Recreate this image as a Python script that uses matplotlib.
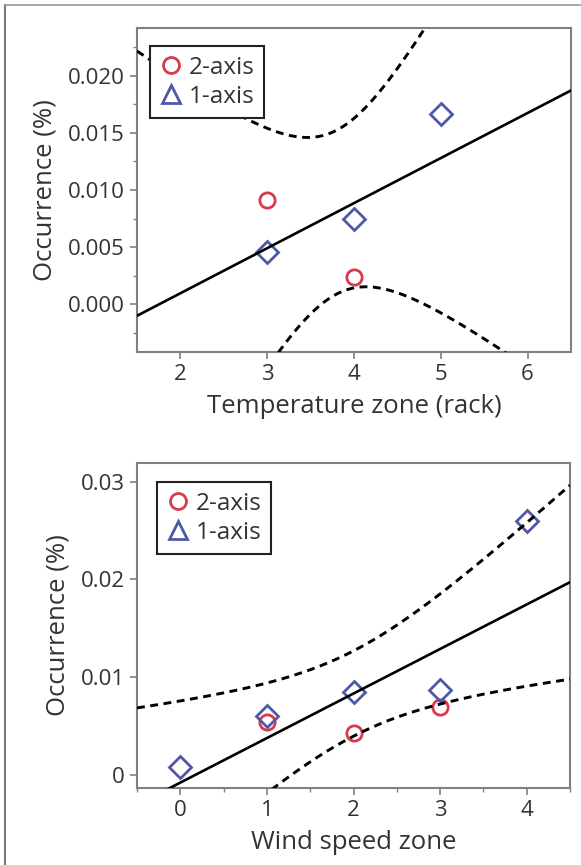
import numpy as np
import matplotlib
matplotlib.use("Agg")
import matplotlib.pyplot as plt
from matplotlib.lines import Line2D

plt.rcParams['font.family'] = ['Open Sans', 'DejaVu Sans']

# ---------------- data ----------------
temp_2axis_x = [3, 4]
temp_2axis_y = [0.0091, 0.0024]
temp_1axis_x = [3, 4, 5]
temp_1axis_y = [0.0046, 0.0075, 0.0167]

wind_2axis_x = [1, 2, 3]
wind_2axis_y = [0.0054, 0.0043, 0.0070]
wind_1axis_x = [0, 1, 2, 3, 4]
wind_1axis_y = [0.0008, 0.0061, 0.0085, 0.0087, 0.0260]

temp_yticks = [0.000, 0.005, 0.010, 0.015, 0.020]
temp_yticklabels = ["0.000", "0.005", "0.010", "0.015", "0.020"]
temp_xticks = [2, 3, 4, 5, 6]
wind_yticks = [0.00, 0.01, 0.02, 0.03]
wind_yticklabels = ["0", "0.01", "0.02", "0.03"]
wind_xticks = [0, 1, 2, 3, 4]

# Student t (95%, two-sided) for the fit's degrees of freedom
t95 = {3: 3.182, 6: 2.447}

RED = "#d83a4e"
BLUE = "#4d58a6"
SPINE = "#808080"
TXT = "#333333"

TICK_FS = 16
LABEL_FS = 18.5
LEG_FS = 17.5

W, H = 581, 865
fig = plt.figure(figsize=(W / 100, H / 100), dpi=100)


def fit_band(x, y, xs):
    x = np.asarray(x, float)
    y = np.asarray(y, float)
    n = len(x)
    b, a = np.polyfit(x, y, 1)
    res = y - (a + b * x)
    s = np.sqrt(np.sum(res ** 2) / (n - 2))
    sxx = np.sum((x - x.mean()) ** 2)
    yhat = a + b * xs
    half = t95[n - 2] * s * np.sqrt(1.0 / n + (xs - x.mean()) ** 2 / sxx)
    return yhat, yhat - half, yhat + half


def panel(rect, x2, y2, x1, y1, xlim, ylim, xticks, yticks, yticklabels,
          xlabel, yminor, xminor, leg_anchor):
    ax = fig.add_axes(rect)
    ax.set_xlim(*xlim)
    ax.set_ylim(*ylim)
    xs = np.linspace(xlim[0], xlim[1], 300)
    yhat, lo, hi = fit_band(list(x2) + list(x1), list(y2) + list(y1), xs)
    ax.plot(x2, y2, linestyle='none', marker='o', markersize=11,
            markerfacecolor='none', markeredgecolor=RED, markeredgewidth=2.0, zorder=2)
    ax.plot(x1, y1, linestyle='none', marker='D', markersize=11.5,
            markerfacecolor='none', markeredgecolor=BLUE, markeredgewidth=2.0, zorder=2)
    ax.plot(xs, yhat, color='black', lw=1.9, zorder=3)
    for band in (lo, hi):
        ax.plot(xs, band, color='black', lw=2.1, dashes=(2.7, 1.9), zorder=3)
    ax.set_xticks(xticks)
    ax.set_xticklabels([str(v) for v in xticks])
    ax.set_yticks(yticks)
    ax.set_yticklabels(yticklabels)
    if yminor is not None:
        ax.set_yticks(yminor, minor=True)
    if xminor is not None:
        ax.set_xticks(xminor, minor=True)
    for sp in ax.spines.values():
        sp.set_color(SPINE)
        sp.set_linewidth(1.5)
    ax.tick_params(axis='both', which='major', direction='out', length=5, width=1.2,
                   color=SPINE, labelsize=TICK_FS, labelcolor=TXT, pad=4)
    ax.tick_params(axis='both', which='minor', direction='out', length=3, width=1.0,
                   color=SPINE)
    ax.set_xlabel(xlabel, fontsize=LABEL_FS, color=TXT, labelpad=6)
    ax.set_ylabel("Occurrence (%)", fontsize=LABEL_FS, color=TXT, labelpad=7)
    handles = [
        Line2D([], [], linestyle='none', marker='o', markersize=11.5,
               markerfacecolor='none', markeredgecolor=RED, markeredgewidth=2.0),
        Line2D([], [], linestyle='none', marker='^', markersize=13,
               markerfacecolor='none', markeredgecolor=BLUE, markeredgewidth=2.0),
    ]
    leg = ax.legend(handles, ["2-axis", "1-axis"], loc='upper left',
                    bbox_to_anchor=leg_anchor, borderaxespad=0, fancybox=False,
                    fontsize=LEG_FS, handlelength=0.9, handletextpad=0.3,
                    labelspacing=0.2, borderpad=0.4, framealpha=1)
    leg.get_frame().set_edgecolor('#222222')
    leg.get_frame().set_linewidth(1.5)
    for t in leg.get_texts():
        t.set_color(TXT)
    return ax


def rect_px(l, t, r, b):
    return [l / W, 1 - b / H, (r - l) / W, (b - t) / H]


panel(rect_px(137, 28, 571, 352), temp_2axis_x, temp_2axis_y, temp_1axis_x, temp_1axis_y,
      (1.5, 6.5), (-0.0042, 0.0242), temp_xticks, temp_yticks, temp_yticklabels,
      "Temperature zone (rack)",
      [-0.0025, 0.0025, 0.0075, 0.0125, 0.0175, 0.0225], None,
      (13 / 434, 1 - 18 / 324))

panel(rect_px(137, 463, 570, 788), wind_2axis_x, wind_2axis_y, wind_1axis_x, wind_1axis_y,
      (-0.5, 4.5), (-0.0013, 0.0319), wind_xticks, wind_yticks, wind_yticklabels,
      "Wind speed zone", None, [-0.5, 0.5, 1.5, 2.5, 3.5, 4.5],
      (20 / 433, 1 - 19 / 325))

# figure frame lines (left and top)
fig.add_artist(Line2D([5 / W, 5 / W], [0, 1 - 5 / H], color='#777777', lw=1.5))
fig.add_artist(Line2D([5 / W, 1], [1 - 5 / H, 1 - 5 / H], color='#999999', lw=1.2))

fig.savefig("out.png", dpi=100)
